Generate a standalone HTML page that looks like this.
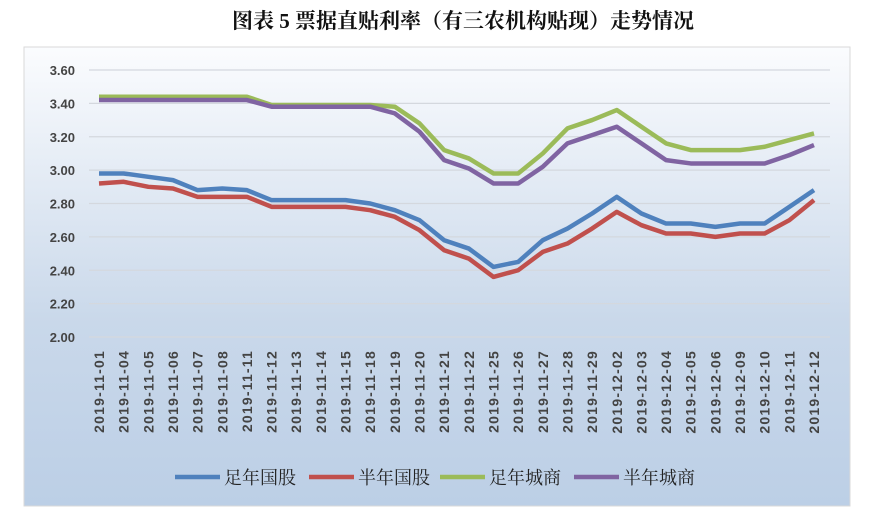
<!DOCTYPE html>
<html><head><meta charset="utf-8"><style>
html,body{margin:0;padding:0;background:#fff;width:879px;height:516px;overflow:hidden}
svg{display:block}
</style></head><body>
<svg width="879" height="516" xmlns="http://www.w3.org/2000/svg">
<defs><linearGradient id="bg" x1="0" y1="0" x2="0" y2="1"><stop offset="0" stop-color="#fbfcfe"/><stop offset="0.6" stop-color="#c9d8ea"/><stop offset="1" stop-color="#bccfe6"/></linearGradient></defs>
<text x="463" y="28" text-anchor="middle" font-family="'Liberation Serif','Noto Serif CJK SC',serif" font-size="21" font-weight="bold" fill="#111">图表 5 票据直贴利率（有三农机构贴现）走势情况</text>
<rect x="24" y="47" width="826" height="459" fill="url(#bg)" stroke="#d9d9d9"/>
<g id="grid"></g><g id="ylab"></g><g id="xlab"></g><g id="lines"></g>
<g id="legend" font-family="'Liberation Serif','Noto Serif CJK SC',serif" font-size="18" fill="#222"></g>
</svg>
<script>
const categories=["2019-11-01","2019-11-04","2019-11-05","2019-11-06","2019-11-07","2019-11-08","2019-11-11","2019-11-12","2019-11-13","2019-11-14","2019-11-15","2019-11-18","2019-11-19","2019-11-20","2019-11-21","2019-11-22","2019-11-25","2019-11-26","2019-11-27","2019-11-28","2019-11-29","2019-12-02","2019-12-03","2019-12-04","2019-12-05","2019-12-06","2019-12-09","2019-12-10","2019-12-11","2019-12-12"];
const fullGuogu=[2.98,2.98,2.96,2.94,2.88,2.89,2.88,2.82,2.82,2.82,2.82,2.80,2.76,2.70,2.58,2.53,2.42,2.45,2.58,2.65,2.74,2.84,2.74,2.68,2.68,2.66,2.68,2.68,2.78,2.88];
const halfGuogu=[2.92,2.93,2.90,2.89,2.84,2.84,2.84,2.78,2.78,2.78,2.78,2.76,2.72,2.64,2.52,2.47,2.36,2.40,2.51,2.56,2.65,2.75,2.67,2.62,2.62,2.60,2.62,2.62,2.70,2.82];
const fullChengshang=[3.44,3.44,3.44,3.44,3.44,3.44,3.44,3.39,3.39,3.39,3.39,3.39,3.38,3.28,3.12,3.07,2.98,2.98,3.10,3.25,3.30,3.36,3.26,3.16,3.12,3.12,3.12,3.14,3.18,3.22];
const halfChengshang=[3.42,3.42,3.42,3.42,3.42,3.42,3.42,3.38,3.38,3.38,3.38,3.38,3.34,3.23,3.06,3.01,2.92,2.92,3.02,3.16,3.21,3.26,3.16,3.06,3.04,3.04,3.04,3.04,3.09,3.15];
const yTicks=[2.00,2.20,2.40,2.60,2.80,3.00,3.20,3.40,3.60];
const seriesNames=["足年国股","半年国股","足年城商","半年城商"];
const NS="http://www.w3.org/2000/svg";
const x0=99,x1=814,yTop=70,yBot=337,vMin=2.0,vMax=3.6;
function xs(i){return x0+(x1-x0)*i/(categories.length-1);}
function ys(v){return yBot-(v-vMin)/(vMax-vMin)*(yBot-yTop);}
function mk(t,a,p){const e=document.createElementNS(NS,t);for(const k in a)e.setAttribute(k,a[k]);p.appendChild(e);return e;}
const grid=document.getElementById('grid'),ylab=document.getElementById('ylab'),xlab=document.getElementById('xlab'),lines=document.getElementById('lines'),legend=document.getElementById('legend');
yTicks.forEach(v=>{
 const l=mk('line',{x1:89,x2:830,y1:ys(v),y2:ys(v),stroke:'#d4d8de','stroke-width':1.3},grid);
 
 
 const t=mk('text',{x:75,y:ys(v)+5,'text-anchor':'end','font-family':'Liberation Sans, sans-serif','font-size':13,'font-weight':'bold',fill:'#444'},ylab);
 t.textContent=v.toFixed(2);
 
 
});
categories.forEach((c,i)=>{
 const t=mk('text',{transform:`translate(${xs(i)+5},350) rotate(-90)`,'text-anchor':'end','font-family':'Liberation Sans, sans-serif','font-size':14,'font-weight':'bold','letter-spacing':'1.2',fill:'#444'},xlab);
 t.textContent=c;
 
 
});
const series=[fullGuogu,halfGuogu,fullChengshang,halfChengshang];
const colors=["#4f81bd","#c0504d","#9bbb59","#8064a2"];
const drawOrder=[2,3,0,1];
drawOrder.forEach(k=>{
 const p=mk('polyline',{points:series[k].map((v,i)=>xs(i)+','+ys(v)).join(' '),fill:'none',stroke:colors[k],'stroke-width':4.5,'stroke-linejoin':'round'},lines);
 
 
});
const lx=[175,309,440,574];
seriesNames.forEach((n,k)=>{
 const g=mk('g',{},legend);
 
 
 mk('line',{x1:lx[k],x2:lx[k]+45,y1:477,y2:477,stroke:colors[k],'stroke-width':4.5},g);
 const t=mk('text',{x:lx[k]+49,y:484},g);
 t.textContent=n;
});
</script>
</body></html>
